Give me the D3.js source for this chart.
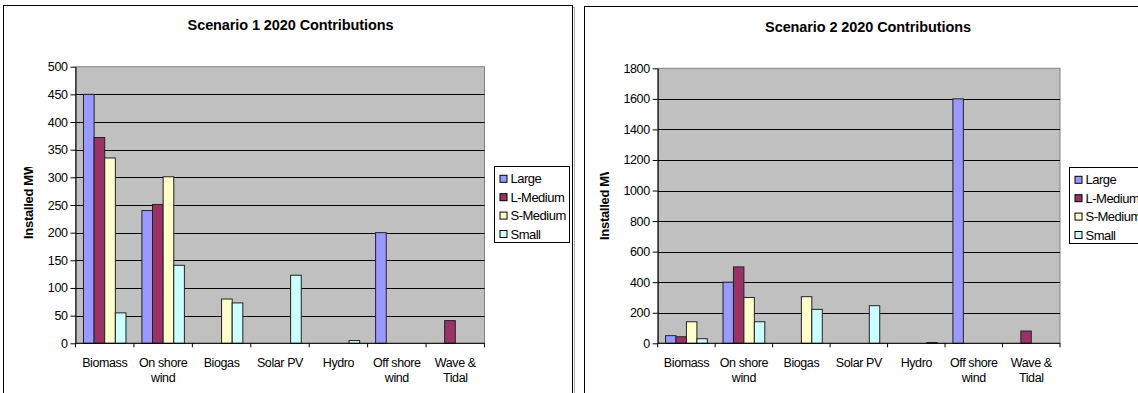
<!DOCTYPE html>
<html>
<head>
<meta charset="utf-8">
<script src="https://cdn.jsdelivr.net/npm/d3@7"></script>
<style>
  html, body { margin: 0; padding: 0; background: #fff; }
  svg { display: block; font-family: "Liberation Sans", Arial, sans-serif; }
</style>
</head>
<body>
<svg id="chart" width="1138" height="393"></svg>
<script>
// Technology categories (line breaks split the axis labels)
const categories = ["Biomass", "On shore\nwind", "Biogas", "Solar PV", "Hydro", "Off shore\nwind", "Wave &\nTidal"];
const seriesNames = ["Large", "L-Medium", "S-Medium", "Small"];
const seriesColors = ["#9999FF", "#993366", "#FFFFCC", "#CCFFFF"];

// Scenario 1 installed capacity (MW)
const s1Large   = [450, 240, 0, 0, 0, 200, 0];
const s1LMedium = [372, 251, 0, 0, 0, 0, 41];
const s1SMedium = [335, 301, 80, 0, 0, 0, 0];
const s1Small   = [55, 141, 73, 123, 5, 0, 0];
const s1Ticks   = [0, 50, 100, 150, 200, 250, 300, 350, 400, 450, 500];

// Scenario 2 installed capacity (MW)
const s2Large   = [50, 400, 0, 0, 0, 1600, 0];
const s2LMedium = [43, 500, 0, 0, 0, 0, 80];
const s2SMedium = [141, 300, 305, 0, 0, 0, 0];
const s2Small   = [30, 141, 222, 246, 5, 0, 0];
const s2Ticks   = [0, 200, 400, 600, 800, 1000, 1200, 1400, 1600, 1800];

const svg = d3.select("#chart");

function drawChart(cfg) {
  const g = svg.append("g");
  const series = [cfg.large, cfg.lMedium, cfg.sMedium, cfg.small];

  // outer frame with a faint shadow
  g.append("rect")
    .attr("x", cfg.frame.x + 2).attr("y", cfg.frame.y + 2)
    .attr("width", cfg.frame.w).attr("height", cfg.frame.h)
    .attr("fill", "none").attr("stroke", "#b0b0b0");
  g.append("rect")
    .attr("x", cfg.frame.x).attr("y", cfg.frame.y)
    .attr("width", cfg.frame.w).attr("height", cfg.frame.h)
    .attr("fill", "#fff").attr("stroke", "#000");

  // title
  g.append("text")
    .attr("x", cfg.titleX).attr("y", cfg.titleY)
    .attr("text-anchor", "middle")
    .attr("font-size", 14.5).attr("font-weight", "bold")
    .attr("letter-spacing", -0.1)
    .text(cfg.title);

  const p = cfg.plot;
  const x = d3.scaleBand().domain(categories).range([p.x, p.x + p.w]);
  const y = d3.scaleLinear().domain([0, cfg.ticks[cfg.ticks.length - 1]]).range([p.y + p.h, p.y]);

  // plot background
  g.append("rect")
    .attr("x", p.x).attr("y", p.y).attr("width", p.w).attr("height", p.h)
    .attr("fill", "#C0C0C0").attr("stroke", "#808080");

  // gridlines
  g.append("g").selectAll("line")
    .data(cfg.ticks.slice(1, -1))
    .join("line")
    .attr("x1", p.x).attr("x2", p.x + p.w)
    .attr("y1", d => Math.round(y(d)) + 0.5).attr("y2", d => Math.round(y(d)) + 0.5)
    .attr("stroke", "#000");

  // bars: four per category, gap of 1.5 bar widths between groups
  const bw = x.bandwidth() / 5.5;
  series.forEach((vals, si) => {
    g.append("g").selectAll("rect")
      .data(vals.map((v, i) => ({ cat: categories[i], v })).filter(d => d.v > 0))
      .join("rect")
      .attr("x", d => x(d.cat) + bw * (0.75 + si))
      .attr("y", d => y(d.v))
      .attr("width", bw)
      .attr("height", d => y(0) - y(d.v))
      .attr("fill", seriesColors[si])
      .attr("stroke", "#222").attr("stroke-width", 1);
  });

  // y axis
  const yAxis = g.append("g")
    .attr("transform", `translate(${p.x},0)`)
    .call(d3.axisLeft(y).tickValues(cfg.ticks).tickFormat(d3.format("d"))
      .tickSize(5).tickPadding(3).tickSizeOuter(0));
  yAxis.selectAll("text").attr("font-size", 12.5).attr("fill", "#000")
    .attr("font-family", "Liberation Sans, Arial, sans-serif").attr("letter-spacing", -0.4);
  yAxis.selectAll("line, path").attr("stroke", "#000");

  // x axis with ticks at category boundaries
  const xa = g.append("g");
  xa.append("line")
    .attr("x1", p.x).attr("x2", p.x + p.w)
    .attr("y1", y(0)).attr("y2", y(0)).attr("stroke", "#000");
  const bounds = categories.map(c => x(c)).concat([p.x + p.w]);
  xa.selectAll("line.tick").data(bounds).join("line")
    .attr("class", "tick")
    .attr("x1", d => d).attr("x2", d => d)
    .attr("y1", y(0)).attr("y2", y(0) + 4).attr("stroke", "#000");
  const lbl = xa.selectAll("text").data(categories).join("text")
    .attr("x", d => x(d) + x.bandwidth() / 2)
    .attr("y", y(0) + 23.5)
    .attr("text-anchor", "middle")
    .attr("font-size", 12.5).attr("letter-spacing", -0.4);
  lbl.each(function (d) {
    const parts = d.split("\n");
    d3.select(this).selectAll("tspan").data(parts).join("tspan")
      .attr("x", x(d) + x.bandwidth() / 2)
      .attr("dy", (t, i) => i === 0 ? 0 : 15.6)
      .text(t => t);
  });

  // y axis title, clipped at the top
  const clipId = "clip-" + cfg.id;
  g.append("clipPath").attr("id", clipId)
    .append("rect").attr("x", 0).attr("y", cfg.yTitleClip).attr("width", 1138).attr("height", 400);
  g.append("g").attr("clip-path", `url(#${clipId})`)
    .append("text")
    .attr("transform", `translate(${cfg.yTitleX},${cfg.yTitleBottom}) rotate(-90)`)
    .attr("font-size", 13).attr("font-weight", "bold").attr("letter-spacing", -0.3)
    .text("Installed MW");

  // legend
  const L = cfg.legend;
  g.append("rect")
    .attr("x", L.x).attr("y", L.y).attr("width", L.w).attr("height", L.h)
    .attr("fill", "#fff").attr("stroke", "#000");
  const items = g.append("g").selectAll("g").data(seriesNames).join("g")
    .attr("transform", (d, i) => `translate(${L.x + 5},${L.y + 12.3 + i * 18.4})`);
  items.append("rect")
    .attr("x", 0.5).attr("y", -3.5).attr("width", 7).attr("height", 7)
    .attr("fill", (d, i) => seriesColors[i]).attr("stroke", "#000");
  items.append("text")
    .attr("x", 11).attr("y", 4.5)
    .attr("font-size", 13).attr("letter-spacing", -0.5)
    .text(d => d);
}

drawChart({
  id: "s1",
  title: "Scenario 1 2020 Contributions",
  titleX: 290.5, titleY: 30,
  frame: { x: 3.5, y: 5.5, w: 569, h: 400 },
  plot: { x: 75.5, y: 66.7, w: 409, h: 276.6 },
  ticks: s1Ticks,
  large: s1Large, lMedium: s1LMedium, sMedium: s1SMedium, small: s1Small,
  yTitleX: 33, yTitleBottom: 239, yTitleClip: 167,
  legend: { x: 494.5, y: 166.5, w: 75, h: 76 }
});

drawChart({
  id: "s2",
  title: "Scenario 2 2020 Contributions",
  titleX: 868, titleY: 31.5,
  frame: { x: 584.5, y: 6.5, w: 600, h: 400 },
  plot: { x: 657.7, y: 68.3, w: 402.3, h: 275 },
  ticks: s2Ticks,
  large: s2Large, lMedium: s2LMedium, sMedium: s2SMedium, small: s2Small,
  yTitleX: 609, yTitleBottom: 240, yTitleClip: 172,
  legend: { x: 1069.5, y: 167.5, w: 75, h: 76 }
});
</script>
</body>
</html>
